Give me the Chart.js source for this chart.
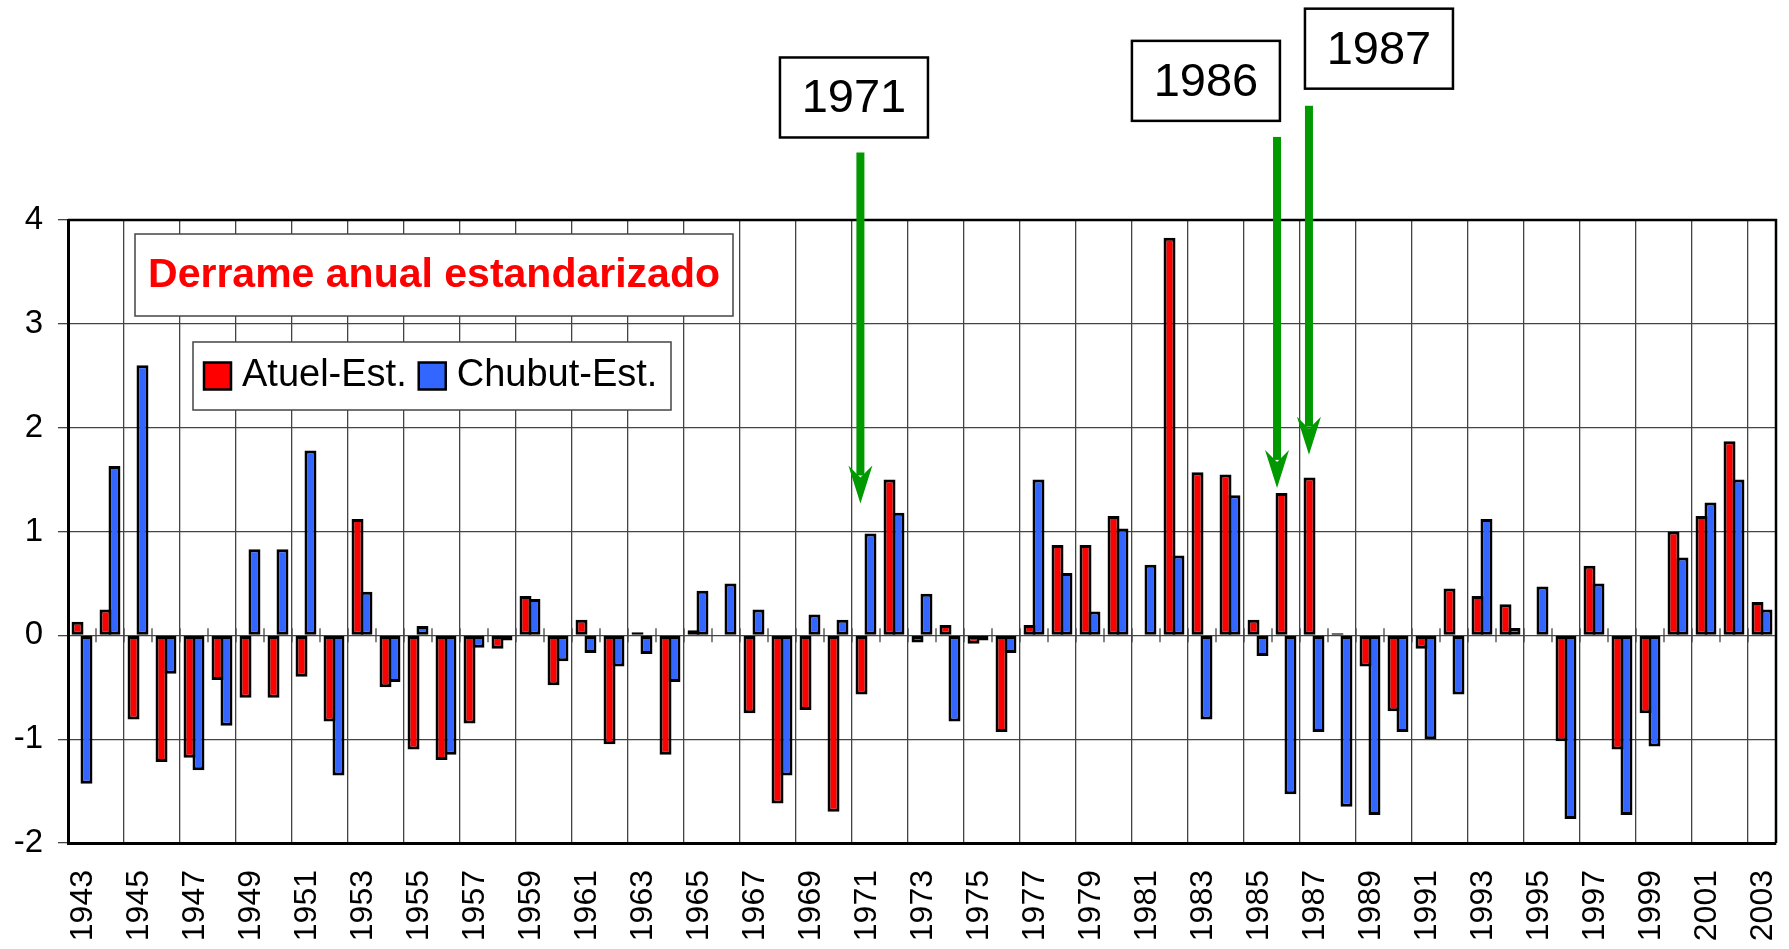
<!DOCTYPE html>
<html>
<head>
<meta charset="utf-8">
<title>Derrame anual estandarizado</title>
<script src="https://cdn.jsdelivr.net/npm/chart.js@4.4.1/dist/chart.umd.min.js"></script>
<style>
  body { margin: 0; background: #fff; }
  canvas { display: block; }
</style>
</head>
<body>
<canvas id="myChart" width="1789" height="949"></canvas>
<script>
const years = [
  1943, 1944, 1945, 1946, 1947, 1948, 1949, 1950, 1951, 1952,
  1953, 1954, 1955, 1956, 1957, 1958, 1959, 1960, 1961, 1962,
  1963, 1964, 1965, 1966, 1967, 1968, 1969, 1970, 1971, 1972,
  1973, 1974, 1975, 1976, 1977, 1978, 1979, 1980, 1981, 1982,
  1983, 1984, 1985, 1986, 1987, 1988, 1989, 1990, 1991, 1992,
  1993, 1994, 1995, 1996, 1997, 1998, 1999, 2000, 2001, 2002,
  2003,
];

// standardized annual flow, Atuel river
const atuel = [
  0.13, 0.25, -0.81, -1.22, -1.18, -0.43, -0.6, -0.6, -0.4, -0.83,
  1.12, -0.5, -1.1, -1.2, -0.85, -0.13, 0.38, -0.48, 0.15, -1.05,
  0.03, -1.15, 0.05, null, -0.75, -1.62, -0.72, -1.7, -0.57, 1.5,
  -0.07, 0.1, -0.08, -0.93, 0.1, 0.87, 0.87, 1.15, null, 3.83,
  1.57, 1.55, 0.15, 1.37, 1.52, 0.02, -0.3, -0.73, -0.13, 0.45,
  0.38, 0.3, null, -1.02, 0.67, -1.1, -0.75, 1.0, 1.15, 1.87,
  0.32,
];

// standardized annual flow, Chubut river
const chubut = [
  -1.43, 1.63, 2.6, -0.37, -1.3, -0.87, 0.83, 0.83, 1.78, -1.35,
  0.42, -0.45, 0.09, -1.15, -0.12, -0.05, 0.35, -0.25, -0.17, -0.3,
  -0.18, -0.45, 0.43, 0.5, 0.25, -1.35, 0.2, 0.15, 0.98, 1.18,
  0.4, -0.83, -0.05, -0.17, 1.5, 0.6, 0.23, 1.03, 0.68, 0.77,
  -0.81, 1.35, -0.2, -1.53, -0.93, -1.65, -1.73, -0.93, -1.0, -0.57,
  1.12, 0.07, 0.47, -1.77, 0.5, -1.73, -1.07, 0.75, 1.28, 1.5,
  0.25,
];

const yMin = -2;
const yMax = 4;
const chartTitle = "Derrame anual estandarizado";

// highlighted years: arrow from tail to tip (y units), label box beside it
const callouts = [
  { year: 1971, shift: -0.2, tail: 4.65, tip: 1.27, boxAt: -0.43, boxY: 5.18 },
  { year: 1986, shift: -0.32, tail: 4.8, tip: 1.42, boxAt: -2.86, boxY: 5.34 },
  { year: 1987, shift: -0.18, tail: 5.1, tip: 1.74, boxAt: 2.32, boxY: 5.65 },
];

const FONT = '"Liberation Sans", Arial, sans-serif';
const GRID = "#444";
const BAR_BORDER = 3;

// frame, zero-line ticks, title box and legend box
const boxesPlugin = {
  id: "boxes",
  beforeDatasetsDraw(chart) {
    const { ctx, chartArea: a, scales: { x, y } } = chart;
    ctx.save();

    // short ticks across the zero line at each category boundary
    const y0 = y.getPixelForValue(0);
    ctx.strokeStyle = GRID;
    ctx.lineWidth = 1.3;
    for (let i = 1; i < years.length; i++) {
      const bx = (x.getPixelForValue(i - 1) + x.getPixelForValue(i)) / 2;
      ctx.beginPath();
      ctx.moveTo(bx, y0 - 7);
      ctx.lineTo(bx, y0 + 7);
      ctx.stroke();
    }

    // top and right edges of the plot frame
    ctx.strokeStyle = "#000";
    ctx.lineWidth = 2.5;
    ctx.beginPath();
    ctx.moveTo(a.left, a.top);
    ctx.lineTo(a.right, a.top);
    ctx.lineTo(a.right, a.bottom);
    ctx.stroke();

    // title box
    const tx = a.left + 67, ty = a.top + 14, tw = 598, th = 82;
    ctx.fillStyle = "#fff";
    ctx.fillRect(tx, ty, tw, th);
    ctx.strokeStyle = GRID;
    ctx.lineWidth = 1.5;
    ctx.strokeRect(tx, ty, tw, th);
    ctx.fillStyle = "#ff0000";
    ctx.font = "bold 41px " + FONT;
    ctx.textAlign = "center";
    ctx.textBaseline = "middle";
    ctx.fillText(chartTitle, tx + tw / 2, ty + th / 2 + 1);

    // legend box
    const lx = a.left + 125, ly = a.top + 122, lw = 478, lh = 68;
    ctx.fillStyle = "#fff";
    ctx.fillRect(lx, ly, lw, lh);
    ctx.strokeRect(lx, ly, lw, lh);
    ctx.font = "38px " + FONT;
    ctx.textAlign = "left";
    let cx = lx + 11;
    const cy = ly + lh / 2;
    chart.data.datasets.forEach((ds) => {
      ctx.fillStyle = ds.backgroundColor;
      ctx.fillRect(cx, cy - 13.5, 27, 27);
      ctx.strokeStyle = "#000";
      ctx.lineWidth = 2.5;
      ctx.strokeRect(cx, cy - 13.5, 27, 27);
      cx += 38;
      ctx.fillStyle = "#000";
      ctx.fillText(ds.label, cx, cy);
      cx += ctx.measureText(ds.label).width + 12;
    });
    ctx.restore();
  },

  afterDraw(chart) {
    const { ctx, chartArea: a, scales: { x, y } } = chart;
    ctx.save();

    // year labels, every second category, reading upwards
    ctx.fillStyle = "#000";
    ctx.font = "32px " + FONT;
    ctx.textAlign = "right";
    ctx.textBaseline = "middle";
    years.forEach((yr, i) => {
      if (i % 2 !== 0) return;
      ctx.save();
      ctx.translate(x.getPixelForValue(i), a.bottom + 27);
      ctx.rotate(-Math.PI / 2);
      ctx.fillText(String(yr), 0, 1);
      ctx.restore();
    });

    // green arrows with year boxes
    callouts.forEach((c) => {
      const idx = years.indexOf(c.year);
      const ax = x.getPixelForValue(idx + c.shift);
      const yTail = y.getPixelForValue(c.tail);
      const yTip = y.getPixelForValue(c.tip);
      ctx.fillStyle = "#009900";
      ctx.fillRect(ax - 4, yTail, 8, yTip - 28 - yTail);
      ctx.beginPath();
      ctx.moveTo(ax, yTip);
      ctx.lineTo(ax - 12, yTip - 38);
      ctx.lineTo(ax, yTip - 26);
      ctx.lineTo(ax + 12, yTip - 38);
      ctx.closePath();
      ctx.fill();

      const bx = x.getPixelForValue(idx + c.boxAt);
      const by = y.getPixelForValue(c.boxY);
      ctx.fillStyle = "#fff";
      ctx.fillRect(bx - 74, by - 40, 148, 80);
      ctx.strokeStyle = "#000";
      ctx.lineWidth = 2.5;
      ctx.strokeRect(bx - 74, by - 40, 148, 80);
      ctx.fillStyle = "#000";
      ctx.font = "47px " + FONT;
      ctx.textAlign = "center";
      ctx.fillText(String(c.year), bx, by + 2);
    });
    ctx.restore();
  },
};

// each bar is a little wider than its slot so neighbours share one border line;
// the red series is drawn last and sits on top
const catPct = 0.64;
const barPct = 1.335;

const ctx = document.getElementById("myChart").getContext("2d");
const myChart = new Chart(ctx, {
  type: "bar",
  data: {
    labels: years.map(String),
    datasets: [
      {
        label: "Atuel-Est.",
        data: atuel,
        backgroundColor: "#ff0000",
        borderColor: "#000",
        borderWidth: BAR_BORDER,
        borderSkipped: false,
        categoryPercentage: catPct,
        barPercentage: barPct,
      },
      {
        label: "Chubut-Est.",
        data: chubut,
        backgroundColor: "#3366ff",
        borderColor: "#000",
        borderWidth: BAR_BORDER,
        borderSkipped: false,
        categoryPercentage: catPct,
        barPercentage: barPct,
      },
    ],
  },
  options: {
    responsive: false,
    animation: false,
    layout: { padding: { top: 220, right: 13, left: 0, bottom: 0 } },
    plugins: {
      legend: { display: false },
      tooltip: { enabled: false },
    },
    scales: {
      x: {
        offset: true,
        grid: {
          offset: true,
          drawTicks: false,
          lineWidth: 1.3,
          color: (c) => (c.index % 2 === 0 ? GRID : "rgba(0,0,0,0)"),
        },
        border: { color: "#000", width: 3 },
        ticks: { display: false },
        afterFit: (scale) => { scale.height = 106; },
      },
      y: {
        min: yMin,
        max: yMax,
        grid: { color: GRID, lineWidth: 1.3, tickLength: 10 },
        border: { color: "#000", width: 3 },
        ticks: {
          stepSize: 1,
          padding: 15,
          color: "#000",
          font: { family: FONT, size: 33 },
        },
        afterFit: (scale) => { scale.width = 68; },
      },
    },
  },
  plugins: [boxesPlugin],
});
</script>
</body>
</html>
